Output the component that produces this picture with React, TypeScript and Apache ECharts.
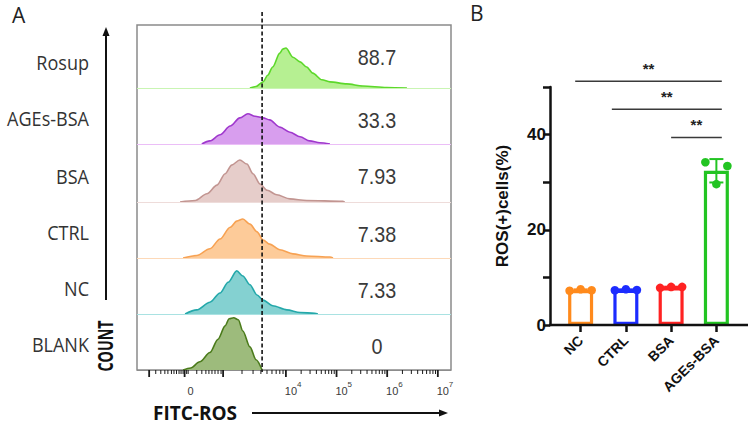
import React, { useEffect, useRef } from "react";
import * as echarts from "echarts";

// ---------- Panel A: FITC-ROS histogram overlay ----------
const rowNames = ["Rosup", "AGEs-BSA", "BSA", "CTRL", "NC", "BLANK"];
const rowPercents = ["88.7", "33.3", "7.93", "7.38", "7.33", "0"];

// [position on the biexponential FITC display scale (decades), event count]
const rosupHist = [[3.29, 0], [3.41, 3], [3.55, 12], [3.64, 25], [3.74, 41], [3.88, 68], [3.94, 76], [4.0, 78], [4.14, 60], [4.28, 51], [4.41, 41], [4.53, 29], [4.71, 16], [4.87, 12], [5.2, 8], [5.52, 4], [5.99, 1], [6.39, 0]];
const agesHist = [[2.34, 0], [2.5, 6], [2.7, 18], [2.9, 35], [3.09, 51], [3.25, 59], [3.39, 54], [3.55, 51], [3.68, 47], [3.88, 33], [4.08, 23], [4.28, 14], [4.47, 6], [4.67, 2.5], [4.87, 0]];
const bsaHist = [[1.91, 0], [2.21, 3], [2.44, 16], [2.64, 33], [2.8, 55], [2.93, 72], [3.09, 82], [3.23, 74], [3.35, 55], [3.49, 35], [3.63, 23], [3.82, 14], [4.08, 6], [4.41, 3], [5.12, 1.4], [5.16, 0]];
const ctrlHist = [[1.97, 0], [2.24, 5], [2.5, 18], [2.7, 37], [2.9, 60], [3.03, 72], [3.15, 76], [3.29, 66], [3.43, 51], [3.55, 35], [3.68, 27], [3.88, 16], [4.14, 8], [4.41, 4], [4.87, 2], [4.93, 0]];
const ncHist = [[2.01, 0], [2.24, 8], [2.5, 23], [2.7, 41], [2.86, 62], [3.03, 84], [3.15, 74], [3.29, 57], [3.43, 37], [3.55, 27], [3.74, 16], [4.02, 8], [4.28, 3], [4.57, 1.4], [4.63, 0]];
const blankHist = [[1.97, 0], [2.12, 4], [2.3, 16], [2.5, 34], [2.66, 60], [2.8, 86], [2.88, 100], [2.97, 102], [3.06, 98], [3.15, 76], [3.29, 45], [3.41, 20], [3.53, 0]];

const gatePosition = 3.53;
const fitcMin = 1.06;
const fitcMax = 7.26;

// axis ticks on the FITC scale
const majorTicks = [1.3, 2.0, 2.76, 4, 5, 6, 7];
const lowMinorTicks = [1.43, 1.53, 1.61, 1.67, 1.74, 1.79, 1.84, 1.89, 1.93, 1.97, 2.04, 2.07, 2.24, 2.34, 2.42, 2.48, 2.54, 2.6, 2.66, 2.72];
const logDecades = [[2.76, 4], [4, 5], [5, 6], [6, 7]];
const tickLabels = [
  { pos: 2.0, base: "0", exp: "" },
  { pos: 4, base: "10", exp: "4" },
  { pos: 5, base: "10", exp: "5" },
  { pos: 6, base: "10", exp: "6" },
  { pos: 7, base: "10", exp: "7" },
];

// ---------- Panel B: ROS(+) cells ----------
const groups = ["NC", "CTRL", "BSA", "AGEs-BSA"];
const ncRos = [7.2, 7.5, 7.3];
const ctrlRos = [7.3, 7.5, 7.35];
const bsaRos = [7.8, 8.0, 8.0];
const agesRos = [34.2, 29.6, 33.4];
const replicates = [ncRos, ctrlRos, bsaRos, agesRos];
const groupColors = ["#ff8a1c", "#1c2cff", "#ff2222", "#22c422"];

// significance brackets: [start, end (category units), height (%)]
const comparisons = [
  [-0.12, 3.12, 51.2],
  [0.69, 3.12, 45.3],
  [2.0, 3.12, 39.4],
];
const comparisonMark = "**";

// ---------- layout ----------
const boxLeft = 137;
const boxWidth = 314;
const rowTops = [25, 88, 144, 202, 258, 314];
const rowHeights = [63, 56, 58, 56, 56, 56];
const countPerPx = 1.95;

const rowStyles = [
  { line: "#5cd82a", fill: "#b6f092", base: "#c9f5b3" },
  { line: "#9f38cd", fill: "#d89eee", base: "#ebbef7" },
  { line: "#c29591", fill: "#e6cdca", base: "#eedcda" },
  { line: "#f7a253", fill: "#fdcb99", base: "#fdd9b8" },
  { line: "#24a8aa", fill: "#84d1d1", base: "#a9e2e2" },
  { line: "#4b7b1b", fill: "#9dbb7c", base: "#8c8c8c" },
];

const mean = (a: number[]) => a.reduce((s, v) => s + v, 0) / a.length;
const stdev = (a: number[]) => {
  const m = mean(a);
  return Math.sqrt(a.reduce((s, v) => s + (v - m) * (v - m), 0) / (a.length - 1));
};

function buildOption() {
  const hists = [rosupHist, agesHist, bsaHist, ctrlHist, ncHist, blankHist];

  const grids: any[] = [];
  const xAxes: any[] = [];
  const yAxes: any[] = [];

  rowNames.forEach((_, i) => {
    grids.push({ left: boxLeft, top: rowTops[i], width: boxWidth, height: rowHeights[i] });
    xAxes.push({ gridIndex: i, type: "value", min: fitcMin, max: fitcMax, show: false });
    yAxes.push({ gridIndex: i, type: "value", min: 0, max: rowHeights[i] * countPerPx, show: false });
  });

  // frame around all rows (index 6)
  grids.push({
    left: boxLeft, top: 25, width: boxWidth, height: 345, show: true,
    borderColor: "#8a8a8a", borderWidth: 1.5, backgroundColor: "transparent",
  });
  xAxes.push({ gridIndex: 6, type: "value", min: fitcMin, max: fitcMax, show: false });
  yAxes.push({ gridIndex: 6, type: "value", min: 0, max: 1, show: false });

  // bar chart (index 7)
  grids.push({ left: 558, top: 87, width: 181, height: 238 });
  xAxes.push({
    gridIndex: 7, type: "category", data: groups,
    axisLine: { show: false },
    axisTick: { show: true, alignWithLabel: true, length: 7, lineStyle: { color: "#111", width: 2.5 } },
    axisLabel: {
      rotate: 45, margin: 13, fontSize: 14, fontWeight: "bold",
      fontFamily: "Liberation Sans", color: "#111",
    },
  });
  yAxes.push({
    gridIndex: 7, type: "value", min: 0, max: 50, interval: 10, offset: 8,
    splitLine: { show: false },
    axisLine: { show: true, lineStyle: { color: "#111", width: 2.5 } },
    axisTick: { show: true, length: 7, lineStyle: { color: "#111", width: 2.5 } },
    axisLabel: {
      margin: 4, fontSize: 17, fontWeight: "bold", fontFamily: "Liberation Sans", color: "#111",
      formatter: (v: number) => (v % 20 === 0 ? String(v) : ""),
    },
  });

  const series: any[] = hists.map((data, i) => ({
    type: "line", xAxisIndex: i, yAxisIndex: i, data,
    smooth: 0.3, smoothMonotone: "x", symbol: "none", silent: true, z: 3,
    lineStyle: { color: rowStyles[i].line, width: 1.6 },
    areaStyle: { color: rowStyles[i].fill, opacity: 1 },
    markLine: {
      silent: true, symbol: "none", label: { show: false },
      lineStyle: { color: rowStyles[i].base, width: 1, type: "solid" },
      data: [{ yAxis: 0 }],
    },
  }));

  // FITC axis ticks
  const tickData: number[][] = majorTicks.map((t) => [t, 1]);
  lowMinorTicks.forEach((t) => tickData.push([t, 0]));
  logDecades.forEach(([a, b]) => {
    for (let k = 2; k <= 9; k++) tickData.push([a + (b - a) * Math.log10(k), 0]);
  });
  series.push({
    type: "custom", xAxisIndex: 6, yAxisIndex: 6, clip: false, silent: true, z: 5,
    data: tickData,
    renderItem: (_p: any, api: any) => {
      const p = api.coord([api.value(0), 0]);
      const major = api.value(1) === 1;
      return {
        type: "line",
        shape: { x1: p[0], y1: p[1], x2: p[0], y2: p[1] + (major ? 7 : 4) },
        style: { stroke: "#1a1a1a", lineWidth: major ? 1.8 : 1 },
      };
    },
  });

  // FITC axis tick labels
  series.push({
    type: "custom", xAxisIndex: 6, yAxisIndex: 6, clip: false, silent: true, z: 5,
    data: tickLabels.map((t, i) => [t.pos, i]),
    renderItem: (_p: any, api: any) => {
      const lab = tickLabels[api.value(1)];
      const p = api.coord([api.value(0), 0]);
      const children: any[] = [
        {
          type: "text", x: p[0] + (lab.exp ? 5 : 6), y: p[1] + 21,
          style: {
            text: lab.base, fill: "#3a3a3a", font: '11px "Liberation Sans"',
            textAlign: "center", textVerticalAlign: "middle", align: "center", verticalAlign: "middle",
          },
        },
      ];
      if (lab.exp) {
        children.push({
          type: "text", x: p[0] + 11, y: p[1] + 14,
          style: {
            text: lab.exp, fill: "#3a3a3a", font: '8px "Liberation Sans"',
            textAlign: "left", textVerticalAlign: "middle", align: "left", verticalAlign: "middle",
          },
        });
      }
      return { type: "group", children };
    },
  });

  // gate line
  series.push({
    type: "custom", xAxisIndex: 6, yAxisIndex: 6, clip: false, silent: true, z: 6,
    data: [[gatePosition]],
    renderItem: (_p: any, api: any) => {
      const top = api.coord([api.value(0), 1]);
      const bot = api.coord([api.value(0), 0]);
      return {
        type: "line",
        shape: { x1: top[0], y1: top[1] - 13, x2: bot[0], y2: bot[1] + 2 },
        style: { stroke: "#111", lineWidth: 1.6, lineDash: [4, 2.5] },
      };
    },
  });

  // bars (group means)
  series.push({
    type: "bar", xAxisIndex: 7, yAxisIndex: 7, barWidth: 25, silent: true, z: 3,
    data: replicates.map((r, i) => ({
      value: mean(r),
      itemStyle: { color: "rgba(255,255,255,0)", borderColor: groupColors[i], borderWidth: 3.2 },
    })),
  });

  // error bars (mean ± SD)
  series.push({
    type: "custom", xAxisIndex: 7, yAxisIndex: 7, clip: false, silent: true, z: 4,
    data: replicates.map((r, i) => [i, mean(r), stdev(r)]),
    renderItem: (_p: any, api: any) => {
      const i = api.value(0);
      const m = api.value(1);
      const s = api.value(2);
      const hi = api.coord([i, m + s]);
      const lo = api.coord([i, m - s]);
      const st = { stroke: groupColors[i], lineWidth: 2 };
      return {
        type: "group",
        children: [
          { type: "line", shape: { x1: hi[0], y1: hi[1], x2: lo[0], y2: lo[1] }, style: st },
          { type: "line", shape: { x1: hi[0] - 7, y1: hi[1], x2: hi[0] + 7, y2: hi[1] }, style: st },
          { type: "line", shape: { x1: lo[0] - 7, y1: lo[1], x2: lo[0] + 7, y2: lo[1] }, style: st },
        ],
      };
    },
  });

  // individual replicates
  const dotOffsets = [-11, 0, 11];
  const dotData: number[][] = [];
  replicates.forEach((r, i) => r.forEach((v, j) => dotData.push([i, v, j])));
  series.push({
    type: "custom", xAxisIndex: 7, yAxisIndex: 7, clip: false, silent: true, z: 5,
    data: dotData,
    renderItem: (_p: any, api: any) => {
      const i = api.value(0);
      const p = api.coord([i, api.value(1)]);
      return {
        type: "circle",
        shape: { cx: p[0] + dotOffsets[api.value(2)], cy: p[1], r: 4.3 },
        style: { fill: groupColors[i] },
      };
    },
  });

  // significance brackets
  series.push({
    type: "custom", xAxisIndex: 7, yAxisIndex: 7, clip: false, silent: true, z: 5,
    data: comparisons,
    renderItem: (_p: any, api: any) => {
      const band = api.size([1, 0])[0];
      const px = (v: number, y: number) => {
        const b = Math.round(v);
        const c = api.coord([b, y]);
        return [c[0] + (v - b) * band, c[1]];
      };
      const a = px(api.value(0), api.value(2));
      const b = px(api.value(1), api.value(2));
      return {
        type: "group",
        children: [
          { type: "line", shape: { x1: a[0], y1: a[1], x2: b[0], y2: b[1] }, style: { stroke: "#3a3a3a", lineWidth: 1.5 } },
          {
            type: "text", x: (a[0] + b[0]) / 2, y: a[1] - 13,
            style: {
              text: comparisonMark, fill: "#222", font: 'bold 15px "Liberation Sans"',
              textAlign: "center", textVerticalAlign: "middle", align: "center", verticalAlign: "middle",
            },
          },
        ],
      };
    },
  });

  const txt = (text: string, x: number, y: number, font: string, align: string, extra: any = {}) => ({
    type: "text", x, y, silent: true, ...extra,
    style: {
      text, font, fill: extra.fill || "#333",
      textAlign: align, textVerticalAlign: "middle", align, verticalAlign: "middle",
    },
  });

  const graphic: any[] = [];
  rowNames.forEach((name, i) => {
    const baseline = rowTops[i] + rowHeights[i];
    graphic.push(txt(name, 89, baseline - 26, '19px "Open Sans"', "right", { scaleX: 0.95, scaleY: 1.08 }));
    graphic.push(txt(rowPercents[i], 377, rowTops[i] + 32, '22px "Liberation Sans"', "center", { scaleX: 0.9, fill: "#3a3a3a" }));
  });
  graphic.push(txt("A", 12, 15, '21px "Open Sans"', "left", { fill: "#222" }));
  graphic.push(txt("B", 470, 13, '21px "Open Sans"', "left", { fill: "#222" }));
  graphic.push(txt("COUNT", 105, 346, 'bold 21px "Open Sans"', "center", { rotation: Math.PI / 2, scaleX: 0.68, fill: "#111" }));
  graphic.push(txt("FITC-ROS", 153, 413, 'bold 19px "Open Sans"', "left", { fill: "#111" }));
  graphic.push(txt("ROS(+)cells(%)", 502, 206, 'bold 17px "Liberation Sans"', "center", { rotation: Math.PI / 2, fill: "#111" }));

  // arrows
  graphic.push({ type: "line", silent: true, shape: { x1: 106, y1: 300, x2: 106, y2: 34 }, style: { stroke: "#111", lineWidth: 2 } });
  graphic.push({ type: "polygon", silent: true, shape: { points: [[106, 27], [102.5, 36], [109.5, 36]] }, style: { fill: "#111" } });
  graphic.push({ type: "line", silent: true, shape: { x1: 252, y1: 413, x2: 440, y2: 413 }, style: { stroke: "#111", lineWidth: 2 } });
  graphic.push({ type: "polygon", silent: true, shape: { points: [[448, 413], [439, 409.5], [439, 416.5]] }, style: { fill: "#111" } });

  // x axis line of panel B
  graphic.push({ type: "line", silent: true, z: 10, shape: { x1: 549, y1: 325, x2: 748, y2: 325 }, style: { stroke: "#111", lineWidth: 2.5 } });

  return {
    animation: false,
    backgroundColor: "#ffffff",
    grid: grids,
    xAxis: xAxes,
    yAxis: yAxes,
    series,
    graphic,
  };
}

export default function App() {
  const ref = useRef<HTMLDivElement>(null);
  useEffect(() => {
    if (!ref.current) return;
    const chart = echarts.init(ref.current, null, { renderer: "svg" });
    chart.setOption(buildOption() as any);
    return () => chart.dispose();
  }, []);
  return (
    <div
      ref={ref}
      style={{ position: "fixed", left: 0, top: 0, width: 752, height: 425, background: "#fff" }}
    />
  );
}
